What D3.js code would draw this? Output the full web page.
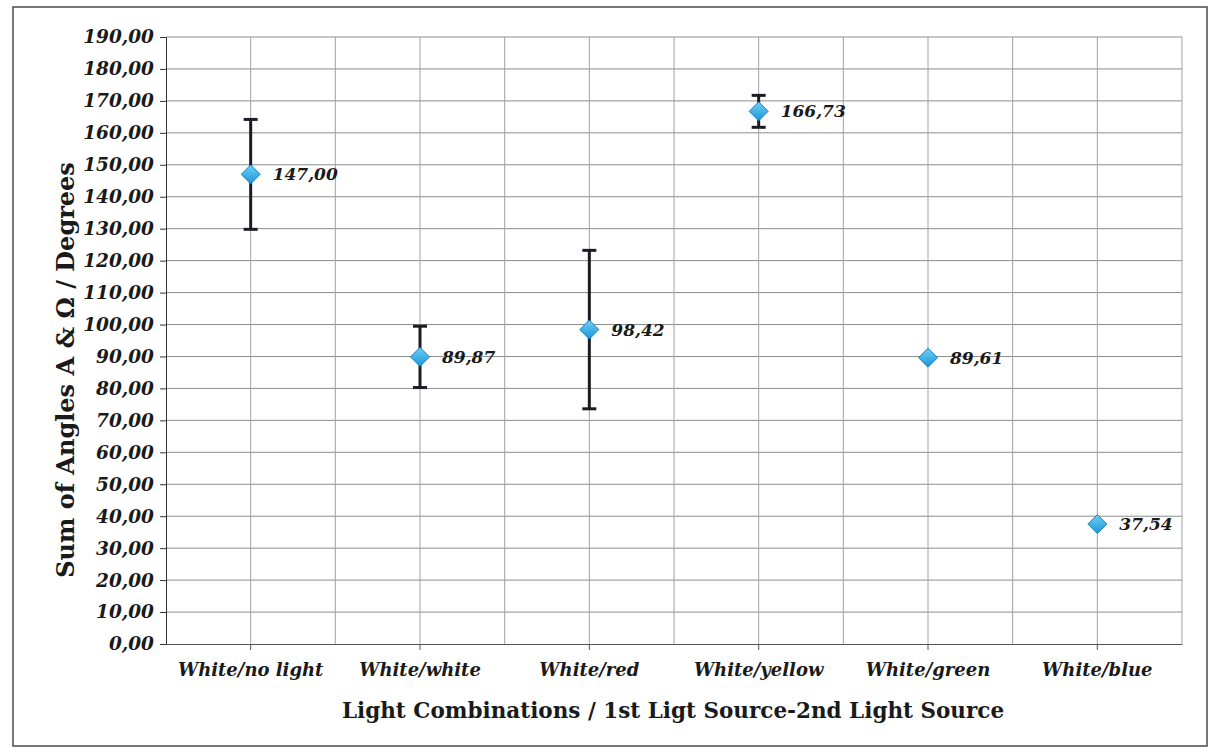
<!DOCTYPE html>
<html>
<head>
<meta charset="utf-8">
<script src="https://cdn.jsdelivr.net/npm/d3@7"></script>
<style>
  body { margin: 0; background: #fff; }
  svg text { font-family: "DejaVu Serif", "Liberation Serif", serif; fill: #1a1a1a; }
</style>
</head>
<body>
<div id="chart"></div>
<script>
// categories and values
var categories = ["White/no light", "White/white", "White/red", "White/yellow", "White/green", "White/blue"];
var means = [147.00, 89.87, 98.42, 166.73, 89.61, 37.54];
var errors = [17.2, 9.6, 24.8, 5.0, 0, 0];
var yTicks = d3.range(0, 191, 10);

var W = 1214, H = 753;
var margin = { top: 37, right: 32, bottom: 109, left: 166 },
    width = W - margin.left - margin.right,
    height = H - margin.top - margin.bottom;

var svg = d3.select("#chart").append("svg")
    .attr("width", W)
    .attr("height", H);

// outer frame
svg.append("rect")
    .attr("x", 13).attr("y", 7)
    .attr("width", 1194).attr("height", 739)
    .attr("fill", "none")
    .attr("stroke", "#4a4a4a")
    .attr("stroke-width", 1.5);

var g = svg.append("g")
    .attr("transform", "translate(" + margin.left + "," + margin.top + ")");

var x = d3.scaleBand().domain(categories).range([0, width]);
var y = d3.scaleLinear().domain([0, 190]).range([height, 0]);

var fmt = function(v) { return d3.format(".2f")(v).replace(".", ","); };

// horizontal gridlines
g.append("g").selectAll("line")
    .data(yTicks.filter(function(d) { return d > 0; }))
    .enter().append("line")
    .attr("x1", 0).attr("x2", width)
    .attr("y1", function(d) { return y(d); })
    .attr("y2", function(d) { return y(d); })
    .attr("stroke", "#8c8c8c")
    .attr("stroke-width", 1);

// vertical gridlines at band edges and centres
var vlines = [];
categories.forEach(function(c) {
    vlines.push(x(c) + x.bandwidth() / 2);
    vlines.push(x(c) + x.bandwidth());
});
g.append("g").selectAll("line")
    .data(vlines)
    .enter().append("line")
    .attr("x1", function(d) { return d; })
    .attr("x2", function(d) { return d; })
    .attr("y1", 0).attr("y2", height)
    .attr("stroke", "#a0a0b0")
    .attr("stroke-width", 1);

// y axis
var yAxis = g.append("g")
    .call(d3.axisLeft(y).tickValues(yTicks).tickFormat(fmt).tickSize(6).tickPadding(6));
yAxis.select(".domain").attr("stroke", "#333");
yAxis.selectAll(".tick line").attr("stroke", "#333");
yAxis.selectAll("text")
    .style("font-size", "18.5px")
    .style("font-weight", "bold")
    .style("font-style", "italic");

// x axis
var xAxis = g.append("g")
    .attr("transform", "translate(0," + height + ")")
    .call(d3.axisBottom(x).tickSize(6).tickPadding(13).tickSizeOuter(0));
xAxis.select(".domain").attr("stroke", "#555");
xAxis.selectAll(".tick line").attr("stroke", "#555");
xAxis.selectAll("text")
    .style("font-size", "18px")
    .style("font-weight", "bold")
    .style("font-style", "italic");

// error bars
var data = categories.map(function(c, i) { return { cat: c, v: means[i], e: errors[i] }; });
var eb = g.append("g").selectAll("g")
    .data(data.filter(function(d) { return d.e > 0; }))
    .enter().append("g")
    .attr("stroke", "#1c1c24")
    .attr("stroke-width", 3);
eb.append("line")
    .attr("x1", function(d) { return x(d.cat) + x.bandwidth() / 2; })
    .attr("x2", function(d) { return x(d.cat) + x.bandwidth() / 2; })
    .attr("y1", function(d) { return y(d.v + d.e); })
    .attr("y2", function(d) { return y(d.v - d.e); });
[1, -1].forEach(function(s) {
    eb.append("line")
        .attr("x1", function(d) { return x(d.cat) + x.bandwidth() / 2 - 7; })
        .attr("x2", function(d) { return x(d.cat) + x.bandwidth() / 2 + 7; })
        .attr("y1", function(d) { return y(d.v + s * d.e); })
        .attr("y2", function(d) { return y(d.v + s * d.e); });
});

// markers
var defs = svg.append("defs");
var grad = defs.append("linearGradient").attr("id", "mk")
    .attr("x1", "0").attr("y1", "0").attr("x2", "0").attr("y2", "1");
grad.append("stop").attr("offset", "0").attr("stop-color", "#6fd0f5");
grad.append("stop").attr("offset", "1").attr("stop-color", "#1b95d6");

g.append("g").selectAll("path")
    .data(data)
    .enter().append("path")
    .attr("d", d3.symbol().type(d3.symbolDiamond2).size(230))
    .attr("transform", function(d) {
        return "translate(" + (x(d.cat) + x.bandwidth() / 2) + "," + y(d.v) + ")";
    })
    .attr("fill", "url(#mk)")
    .attr("stroke", "#1583c4")
    .attr("stroke-width", 1);

// data labels
g.append("g").selectAll("text")
    .data(data)
    .enter().append("text")
    .attr("x", function(d) { return x(d.cat) + x.bandwidth() / 2 + 22; })
    .attr("y", function(d) { return y(d.v); })
    .attr("dy", "0.35em")
    .style("font-size", "17px")
    .style("font-weight", "bold")
    .style("font-style", "italic")
    .text(function(d) { return fmt(d.v); });

// axis titles
svg.append("text")
    .attr("x", 673)
    .attr("y", 718)
    .attr("text-anchor", "middle")
    .style("font-size", "21.5px")
    .style("font-weight", "bold")
    .text("Light Combinations / 1st Ligt Source-2nd Light Source");

svg.append("text")
    .attr("transform", "translate(74," + 370 + ") rotate(-90)")
    .attr("text-anchor", "middle")
    .style("font-size", "24px")
    .style("font-weight", "bold")
    .text("Sum of Angles A & Ω / Degrees");
</script>
</body>
</html>
